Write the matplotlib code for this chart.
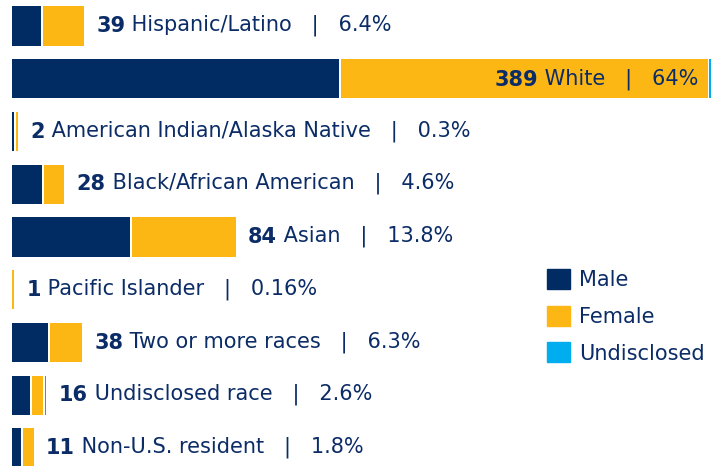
import matplotlib.pyplot as plt
from matplotlib.patches import Patch

# categories top to bottom
categories = ["Hispanic/Latino", "White", "American Indian/Alaska Native",
              "Black/African American", "Asian", "Pacific Islander",
              "Two or more races", "Undisclosed race", "Non-U.S. resident"]
totals = [39, 389, 2, 28, 84, 1, 38, 16, 11]
percents = ["6.4%", "64%", "0.3%", "4.6%", "13.8%", "0.16%", "6.3%", "2.6%", "1.8%"]

# segment lengths as drawn in the picture
male = [16, 183, 1, 17, 66, 0, 20, 10, 5]
female = [23, 205, 1, 11, 58, 1, 18, 6, 6]
undisclosed = [0, 1, 0, 0, 0, 0, 0, 1, 0]

NAVY = "#012b63"
GOLD = "#fdb714"
BLUE = "#00adee"
TEXT = "#0b2c66"
GAP = 1.1  # white gap between segments (data units)

plt.rcParams['font.family'] = ['DejaVu Sans']

fig = plt.figure(figsize=(7.27, 4.66), dpi=100)
ax = fig.add_axes([12 / 727, 0, 715 / 727, 1])
ax.set_xlim(0, 400)
ax.set_ylim(8.341, -0.493)
ax.axis("off")

FS = 15
h = 0.74
for i in range(len(categories)):
    left = 0
    end = 0
    for val, col in ((male[i], NAVY), (female[i], GOLD), (undisclosed[i], BLUE)):
        if val == 0:
            continue
        ax.barh(i, val, left=left, height=h, color=col, linewidth=0)
        end = left + val
        left = end + GAP

    rest = f" {categories[i]}   |   {percents[i]}"
    if categories[i] == "White":
        t = ax.text(end - 7, i, rest, ha="right", va="center", fontsize=FS, color=TEXT)
        ax.annotate(str(totals[i]), xy=(0, 0), xycoords=t, ha="right", va="bottom",
                    fontsize=FS, fontweight="bold", color=TEXT)
    else:
        t = ax.text(end + 7, i, str(totals[i]), ha="left", va="center", fontsize=FS,
                    fontweight="bold", color=TEXT)
        ax.annotate(rest, xy=(1, 0), xycoords=t, ha="left", va="bottom",
                    fontsize=FS, color=TEXT)

handles = [Patch(color=NAVY, label="Male"), Patch(color=GOLD, label="Female"),
           Patch(color=BLUE, label="Undisclosed")]
leg = fig.legend(handles=handles, loc="upper left", bbox_to_anchor=(547 / 727, 1 - 269 / 466),
                 frameon=False, fontsize=FS, handlelength=1.1, handleheight=1.1,
                 labelspacing=0.75, handletextpad=0.45, borderpad=0, borderaxespad=0)
for txt in leg.get_texts():
    txt.set_color(TEXT)

fig.savefig("out.png", dpi=100)
